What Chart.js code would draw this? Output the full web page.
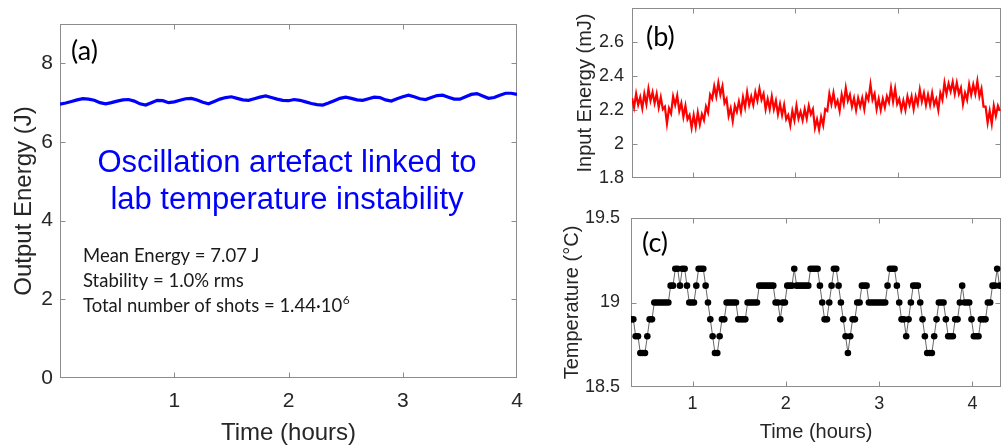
<!DOCTYPE html>
<html><head><meta charset="utf-8">
<script src="https://cdn.jsdelivr.net/npm/chart.js@4.4.1/dist/chart.umd.min.js"></script>
<style>
html,body{margin:0;padding:0;background:#fff;width:1005px;height:448px;overflow:hidden}
canvas{position:absolute}
#ca{left:0;top:0}
#cb{left:540px;top:0}
#cc{left:540px;top:195px}
</style></head><body>
<canvas id="ca" width="540" height="448"></canvas>
<canvas id="cb" width="465" height="195"></canvas>
<canvas id="cc" width="465" height="253"></canvas>
<script>
// ---------- data ----------
// (a) output energy, J, sampled every 0.05 h from 0 h
const outputStartHour = 0, outputStepHour = 0.05;
const outputEnergy = [6.96,6.99,7.03,7.07,7.10,7.09,7.06,7.00,6.97,7.00,
 7.04,7.07,7.08,7.04,6.97,6.94,7.00,7.06,7.05,7.00,
 7.02,7.06,7.10,7.11,7.07,7.01,6.97,7.03,7.09,7.13,
 7.15,7.11,7.07,7.06,7.10,7.14,7.17,7.13,7.09,7.06,
 7.05,7.08,7.06,7.02,6.98,6.95,6.94,6.99,7.05,7.11,
 7.14,7.11,7.07,7.06,7.10,7.14,7.13,7.07,7.04,7.10,
 7.15,7.19,7.15,7.10,7.08,7.13,7.18,7.19,7.14,7.09,
 7.09,7.15,7.21,7.23,7.17,7.11,7.13,7.19,7.24,7.24,
 7.21];
// (b) input energy, mJ, sampled every 0.02 h from 0.41 h
const inputStartHour = 0.41, inputStepHour = 0.02;
const inputEnergy = [2.27,2.215,2.295,2.23,2.275,2.21,2.295,2.235,2.325,2.255,2.305,2.24,
 2.295,2.215,2.275,2.205,2.22,2.12,2.21,2.18,2.28,2.23,2.285,2.195,
 2.24,2.16,2.225,2.145,2.17,2.095,2.17,2.10,2.185,2.115,2.175,2.14,
 2.22,2.185,2.29,2.265,2.34,2.28,2.36,2.29,2.34,2.24,2.265,2.165,
 2.21,2.135,2.225,2.19,2.25,2.19,2.275,2.215,2.305,2.23,2.28,2.23,
 2.305,2.255,2.325,2.26,2.295,2.205,2.265,2.205,2.28,2.205,2.255,2.175,
 2.235,2.17,2.23,2.145,2.17,2.11,2.195,2.14,2.225,2.15,2.19,2.14,
 2.205,2.15,2.225,2.175,2.205,2.095,2.145,2.085,2.16,2.11,2.205,2.195,
 2.295,2.235,2.30,2.225,2.255,2.195,2.29,2.235,2.33,2.255,2.29,2.22,
 2.27,2.20,2.27,2.22,2.27,2.205,2.29,2.26,2.35,2.26,2.295,2.205,
 2.265,2.20,2.265,2.215,2.28,2.245,2.33,2.25,2.325,2.235,2.265,2.20,
 2.255,2.20,2.28,2.23,2.28,2.205,2.28,2.235,2.32,2.25,2.30,2.23,
 2.29,2.23,2.30,2.23,2.265,2.20,2.30,2.26,2.36,2.295,2.355,2.31,
 2.365,2.295,2.36,2.295,2.33,2.235,2.30,2.26,2.35,2.29,2.35,2.295,
 2.37,2.28,2.325,2.22,2.22,2.125,2.195,2.12,2.225,2.165,2.225,2.195];
// (c) temperature, deg C, sampled every 0.025 h from 0.34 h
const tempStartHour = 0.34, tempStepHour = 0.025;
const temperature = [18.9,18.9,18.8,18.8,18.7,18.7,18.7,18.8,18.9,18.9,
 19.0,19.0,19.0,19.0,19.0,19.0,19.0,19.1,19.1,19.2,
 19.2,19.1,19.2,19.2,19.1,19.0,19.0,19.0,19.1,19.2,
 19.2,19.2,19.1,19.0,18.9,18.8,18.7,18.7,18.8,18.9,
 18.9,19.0,19.0,19.0,19.0,19.0,18.9,18.9,18.9,18.9,
 19.0,19.0,19.0,19.0,19.0,19.1,19.1,19.1,19.1,19.1,
 19.1,19.1,19.0,19.0,18.9,19.0,19.0,19.1,19.1,19.1,
 19.2,19.1,19.1,19.1,19.1,19.1,19.1,19.2,19.2,19.2,
 19.2,19.1,19.0,18.9,18.9,19.0,19.1,19.2,19.2,19.1,
 19.0,18.9,18.8,18.7,18.8,18.9,18.9,19.0,19.0,19.1,
 19.1,19.1,19.0,19.0,19.0,19.0,19.0,19.0,19.0,19.0,
 19.1,19.2,19.2,19.2,19.1,19.0,18.9,18.9,18.8,18.9,
 19.0,19.1,19.1,19.1,19.0,18.9,18.8,18.7,18.7,18.7,
 18.8,18.9,19.0,19.0,19.0,18.9,18.8,18.8,18.8,18.9,
 18.9,19.0,19.1,19.0,19.0,19.0,18.9,18.8,18.8,18.8,
 18.9,18.9,18.9,19.0,19.0,19.1,19.1,19.2,19.1];

// axis ranges / tick steps
const rangeA = {xMin:0, xMax:4, yMin:0, yMax:9, yStep:2};
const rangeB = {xMin:0.41, xMax:4, yMin:1.8, yMax:2.8, yStep:0.2};
const rangeC = {xMin:0.34, xMax:4.306, yMin:18.5, yMax:19.5, yStep:0.5};

// texts
const axisTitles = {aX:'Time (hours)', aY:'Output Energy (J)', bY:'Input Energy (mJ)', cX:'Time (hours)', cY:'Temperature (\u00B0C)'};
const panelLabels = ['(a)','(b)','(c)'];
const noteLines = ['Oscillation artefact linked to','lab temperature instability'];
const statLines = ['Mean Energy = 7.07 J','Stability = 1.0% rms','Total number of shots = 1.44\u00B710'];
const statSuperscript = '6';

// ---------- helpers ----------
const AXIS_FONT = "'Liberation Sans', Arial, sans-serif";
const CAL_FONT = "Lato, 'Open Sans', sans-serif";
const TEXT_COLOR = '#262626';
const BOX_COLOR = '#8c8c8c';
Chart.defaults.animation = false;
Chart.defaults.font.family = AXIS_FONT;

function series(start, step, values){ return values.map((v,i)=>({x: start + i*step, y: v})); }
const fmt1 = v => String(+(+v).toFixed(1));

const boxPlugin = {
  id:'box',
  beforeDatasetsDraw(chart){
    const {ctx, chartArea:a, scales} = chart;
    ctx.save();
    ctx.strokeStyle = BOX_COLOR; ctx.lineWidth = 1;
    const L = Math.round(a.left)+0.5, R = Math.round(a.right)-0.5, T = Math.round(a.top)+0.5, B = Math.round(a.bottom)-0.5;
    ctx.strokeRect(L, T, R-L, B-T);
    const tl = 5;
    ctx.beginPath();
    scales.x.ticks.forEach(t=>{
      const px = Math.round(scales.x.getPixelForValue(t.value))+0.5;
      if (px <= L+1 || px >= R-1) return;
      ctx.moveTo(px,B); ctx.lineTo(px,B-tl); ctx.moveTo(px,T); ctx.lineTo(px,T+tl);
    });
    scales.y.ticks.forEach(t=>{
      const py = Math.round(scales.y.getPixelForValue(t.value))+0.5;
      if (py <= T+1 || py >= B-1) return;
      ctx.moveTo(L,py); ctx.lineTo(L+tl,py); ctx.moveTo(R,py); ctx.lineTo(R-tl,py);
    });
    ctx.stroke(); ctx.restore();
  }
};

function panelLabelPlugin(text, x, y){
  return { id:'lbl'+text, afterDraw(chart){
    const ctx = chart.ctx; ctx.save();
    ctx.fillStyle = '#000'; ctx.font = "27px " + CAL_FONT;
    ctx.textAlign = 'left'; ctx.textBaseline = 'alphabetic';
    ctx.fillText(text, x, y); ctx.restore();
  }};
}

const notesPlugin = { id:'notes', afterDraw(chart){
  const ctx = chart.ctx; ctx.save();
  ctx.fillStyle = '#0000ff'; ctx.font = "31px " + AXIS_FONT;
  ctx.textAlign = 'center'; ctx.textBaseline = 'alphabetic';
  ctx.fillText(noteLines[0], 287, 172);
  ctx.fillText(noteLines[1], 287, 209);
  ctx.fillStyle = '#1a1a1a'; ctx.font = "18.5px " + CAL_FONT; ctx.textAlign = 'left';
  ctx.fillText(statLines[0], 83, 262);
  ctx.fillText(statLines[1], 83, 287);
  ctx.fillText(statLines[2], 83, 312);
  const w = ctx.measureText(statLines[2]).width;
  ctx.font = "12px " + CAL_FONT;
  ctx.fillText(statSuperscript, 83 + w + 0.5, 304);
  ctx.restore();
}};

function baseScales(o){
  return {
    x: { type:'linear', min:o.xMin, max:o.xMax,
      afterBuildTicks: o.xFilter || undefined,
      ticks:{ display:o.xLabels, stepSize:1, includeBounds:false, padding:o.xPad, color:TEXT_COLOR,
              font:{family:AXIS_FONT, size:o.xFont}, maxRotation:0, autoSkip:false },
      grid:{ display:false, drawTicks:false }, border:{ display:false },
      title:{ display:!!o.xTitle, text:o.xTitle||'', color:TEXT_COLOR,
              font:{family:AXIS_FONT, size:o.xTitleSize}, padding:{top:0, bottom:o.xTitlePad||0} },
      afterFit(s){ s.height = o.xHeight; s.paddingLeft = 0; s.paddingRight = 0; s.paddingTop = 0; s.paddingBottom = 0; }
    },
    y: { type:'linear', min:o.yMin, max:o.yMax,
      afterBuildTicks: o.yFilter || undefined,
      ticks:{ stepSize:o.yStep, includeBounds:false, padding:o.yPad, color:TEXT_COLOR,
              font:{family:AXIS_FONT, size:o.yFont}, callback:fmt1 },
      grid:{ display:false, drawTicks:false }, border:{ display:false },
      title:{ display:true, text:o.yTitle, color:TEXT_COLOR,
              font:{family:AXIS_FONT, size:o.yTitleSize}, padding:{top:o.yTitlePad, bottom:0} },
      afterFit(s){ s.width = o.yWidth; s.paddingLeft = 0; s.paddingRight = 0; s.paddingTop = 0; s.paddingBottom = 0; }
    }
  };
}
const commonPlugins = { legend:{display:false}, tooltip:{enabled:false} };

// ---------- (a) ----------
new Chart(document.getElementById('ca'), {
  type:'line',
  data:{ datasets:[{ data: series(outputStartHour, outputStepHour, outputEnergy),
    borderColor:'#0000ff', borderWidth:3.2, pointRadius:0, tension:0 }] },
  options:{ responsive:false, devicePixelRatio:1, parsing:false,
    layout:{ padding:{ top:24, right:23, bottom:0, left:0 } },
    plugins: commonPlugins,
    scales: baseScales({ xMin:rangeA.xMin, xMax:rangeA.xMax, xLabels:true, xPad:11, xFont:21,
      xFilter(s){ s.ticks = s.ticks.filter(t => t.value > 0); },
      xTitle:axisTitles.aX, xTitleSize:24, xTitlePad:0, xHeight:70,
      yMin:rangeA.yMin, yMax:rangeA.yMax, yStep:rangeA.yStep, yPad:7, yFont:21,
      yTitle:axisTitles.aY, yTitleSize:24, yTitlePad:9.6, yWidth:60 })
  },
  plugins:[boxPlugin, panelLabelPlugin(panelLabels[0], 71, 60), notesPlugin]
});

// ---------- (b) ----------
new Chart(document.getElementById('cb'), {
  type:'line',
  data:{ datasets:[{ data: series(inputStartHour, inputStepHour, inputEnergy),
    borderColor:'#ff0000', borderWidth:2.2, pointRadius:0, tension:0 }] },
  options:{ responsive:false, devicePixelRatio:1, parsing:false,
    layout:{ padding:{ top:8, right:4, bottom:0, left:0 } },
    plugins: commonPlugins,
    scales: baseScales({ xMin:rangeB.xMin, xMax:rangeB.xMax, xLabels:false, xPad:0, xFont:18,
      xHeight:17,
      yMin:rangeB.yMin, yMax:rangeB.yMax, yStep:rangeB.yStep, yPad:8, yFont:18,
      yFilter(s){ s.ticks = s.ticks.filter(t => t.value < rangeB.yMax - 1e-6); },
      yTitle:axisTitles.bY, yTitleSize:20, yTitlePad:33, yWidth:92 })
  },
  plugins:[boxPlugin, panelLabelPlugin(panelLabels[1], 106, 46)]
});

// ---------- (c) ----------
new Chart(document.getElementById('cc'), {
  type:'line',
  data:{ datasets:[{ data: series(tempStartHour, tempStepHour, temperature),
    borderColor:'#666', borderWidth:1, pointRadius:3.3, pointBackgroundColor:'#000',
    pointBorderWidth:0, tension:0 }] },
  options:{ responsive:false, devicePixelRatio:1, parsing:false,
    layout:{ padding:{ top:23.3, right:4, bottom:0, left:0 } },
    plugins: commonPlugins,
    scales: baseScales({ xMin:rangeC.xMin, xMax:rangeC.xMax, xLabels:true, xPad:6.5, xFont:18,
      xTitle:axisTitles.cX, xTitleSize:20, xTitlePad:4, xHeight:61.3,
      yMin:rangeC.yMin, yMax:rangeC.yMax, yStep:rangeC.yStep, yPad:11, yFont:18,
      yTitle:axisTitles.cY, yTitleSize:20, yTitlePad:20, yWidth:91 })
  },
  plugins:[boxPlugin, panelLabelPlugin(panelLabels[2], 102, 57)]
});
</script>
</body></html>
